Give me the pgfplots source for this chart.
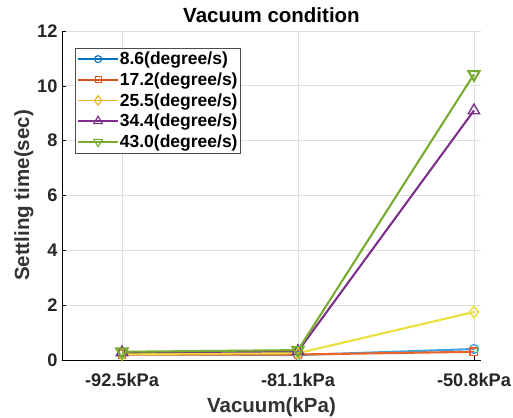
\documentclass[border=0pt]{standalone}
\usepackage{fontspec}
\setmainfont{Liberation Sans}
\usepackage{pgfplots}
\pgfplotsset{compat=1.18}
\definecolor{mblue}{HTML}{0072BD}
\definecolor{morange}{HTML}{D95319}
\definecolor{myellow}{HTML}{EDB120}
\definecolor{mpurple}{HTML}{7E2F8E}
\definecolor{mgreen}{HTML}{77AC30}
% lines in the plot area render lighter than the legend samples
\definecolor{lblue}{HTML}{3FA5DE}
\definecolor{lorange}{HTML}{EE6128}
\definecolor{lyellow}{HTML}{E9E03A}
\definecolor{gridgray}{HTML}{DEDEDE}

\begin{document}
\begin{tikzpicture}[x=1bp,y=1bp]
\path[use as bounding box] (-62bp,-58bp) rectangle (451bp,360bp);
\begin{axis}[
  name=ax, at={(0,0)}, anchor=south west,
  scale only axis, width=419bp, height=329bp,
  xmin=0.659, xmax=3.04, ymin=0, ymax=12,
  xtick={1,2,3}, xticklabels={-92.5kPa,-81.1kPa,-50.8kPa},
  ytick={0,2,4,6,8,10,12},
  axis x line*=bottom, axis y line*=left,
  axis line style={black, line width=0.6pt, -},
  tick align=inside, major tick length=4bp,
  tick style={black, line width=0.6pt},
  grid=major, grid style={gridgray, line width=0.8pt},
  /pgf/number format/assume math mode=true,
  every tick label/.append style={font=\fontsize{18.2bp}{19bp}\selectfont\bfseries, color=black!85},
  xticklabel style={yshift=-10bp},
  yticklabel style={xshift=-1bp},
  xlabel={Vacuum(kPa)}, ylabel={Settling time(sec)},
  xlabel style={font=\fontsize{20.5bp}{21bp}\selectfont\bfseries, color=black!80, yshift=-4bp},
  ylabel style={font=\fontsize{20.5bp}{21bp}\selectfont\bfseries, color=black!80, yshift=-3bp},
  title={Vacuum condition},
  title style={font=\fontsize{20.5bp}{21bp}\selectfont\bfseries, yshift=-1bp},
  legend style={at={(0.031,0.949)}, anchor=north west, draw=black!70, line width=0.6pt,
    font=\fontsize{17.5bp}{19bp}\selectfont\bfseries, inner xsep=2bp, inner ysep=2bp,
    row sep=2.5bp, cells={anchor=west}, nodes={inner xsep=1bp},
    /tikz/every even column/.append style={column sep=0pt}},
  legend image code/.code={
    \draw[#1] (0bp,0bp) -- (20bp,0bp) plot coordinates {(20bp,0bp)} -- (40bp,0bp);},
  every axis plot/.append style={line width=2.1pt, mark options={solid, line width=1.4pt}},
]
\addplot[lblue, mark=o, mark size=4.5pt, forget plot] coordinates {(1,0.22) (2,0.18) (3,0.40)};
\addplot[lorange, mark=square, mark size=3.8pt, forget plot] coordinates {(1,0.20) (2,0.20) (3,0.30)};
\addplot[lyellow, mark=diamond, mark size=6pt, forget plot] coordinates {(1,0.22) (2,0.25) (3,1.75)};
\addplot[mpurple, mark=triangle, mark size=6.5pt, forget plot] coordinates {(1,0.28) (2,0.32) (3,9.10)};
\addplot[mgreen, mark=triangle, mark size=6.5pt, mark options={rotate=180}, forget plot] coordinates {(1,0.30) (2,0.36) (3,10.42)};

\addlegendimage{mblue, mark=o, line width=1.6pt, mark size=3.5pt, mark options={solid, line width=1.1pt}}
\addlegendentry{8.6(degree/s)}
\addlegendimage{morange, mark=square, line width=1.6pt, mark size=3pt, mark options={solid, line width=1.1pt}}
\addlegendentry{17.2(degree/s)}
\addlegendimage{myellow, mark=diamond, line width=1.6pt, mark size=4.8pt, mark options={solid, line width=1.1pt}}
\addlegendentry{25.5(degree/s)}
\addlegendimage{mpurple, mark=triangle, line width=1.6pt, mark size=5pt, mark options={solid, line width=1.1pt}}
\addlegendentry{34.4(degree/s)}
\addlegendimage{mgreen, mark=triangle, mark options={solid, rotate=180, line width=1.1pt}, line width=1.6pt, mark size=5pt}
\addlegendentry{43.0(degree/s)}
\end{axis}
\end{tikzpicture}
\end{document}
